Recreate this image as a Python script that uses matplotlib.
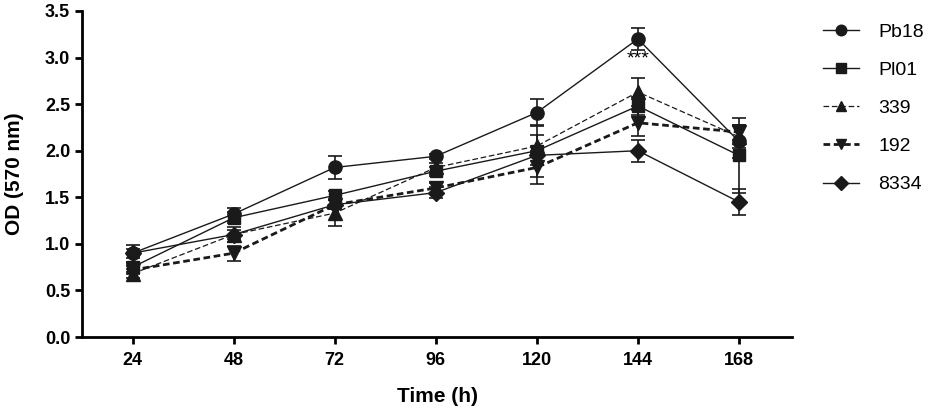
import matplotlib
matplotlib.use("Agg")
import matplotlib.pyplot as plt

plt.rcParams['font.family'] = ['Liberation Sans', 'DejaVu Sans']

# Time points (h)
hours = [24, 48, 72, 96, 120, 144, 168]

# OD readings (mean) and error bars for each strain
pb18 = [0.90, 1.32, 1.82, 1.94, 2.41, 3.20, 2.10]
pb18_err = [0.05, 0.07, 0.12, 0.03, 0.14, 0.12, 0.18]

pl01 = [0.75, 1.28, 1.52, 1.78, 2.00, 2.48, 1.95]
pl01_err = [0.05, 0.06, 0.05, 0.05, 0.28, 0.10, 0.40]

s339 = [0.68, 1.10, 1.33, 1.82, 2.05, 2.63, 2.15]
s339_err = [0.05, 0.05, 0.14, 0.05, 0.12, 0.15, 0.12]

s192 = [0.72, 0.90, 1.42, 1.60, 1.82, 2.30, 2.20]
s192_err = [0.04, 0.08, 0.05, 0.05, 0.18, 0.14, 0.08]

s8334 = [0.90, 1.10, 1.42, 1.55, 1.95, 2.00, 1.45]
s8334_err = [0.09, 0.08, 0.05, 0.06, 0.10, 0.12, 0.14]

labels = ["Pb18", "Pl01", "339", "192", "8334"]

# marker, linestyle, linewidth, markersize
series = [
    (pb18, pb18_err, 'o', '-', 1.0, 9.5),
    (pl01, pl01_err, 's', '-', 1.0, 9.0),
    (s339, s339_err, '^', (0, (4.5, 2.2)), 0.9, 9.5),
    (s192, s192_err, 'v', (0, (2.4, 1.3)), 2.0, 9.5),
    (s8334, s8334_err, 'D', '-', 1.0, 8.5),
]

fig = plt.figure(figsize=(9.35, 4.08), dpi=100)
ax = fig.add_axes([82 / 935, 1 - 337 / 408, 710 / 935, 326 / 408])

for (vals, err, mk, ls, lw, ms), lab in zip(series, labels):
    ax.errorbar(hours, vals, yerr=err, color='#1a1a1a', marker=mk,
                markersize=ms, linestyle=ls, linewidth=lw,
                elinewidth=1.2, capsize=5, capthick=1.2, label=lab)

ax.text(144, 2.99, "***", ha='center', va='center', fontsize=14)

ax.set_xlim(12, 180.6)
ax.set_ylim(0, 3.5)
ax.set_xticks(hours)
ax.set_yticks([0.0, 0.5, 1.0, 1.5, 2.0, 2.5, 3.0, 3.5])
ax.set_yticklabels([f"{v:.1f}" for v in ax.get_yticks()])

for side in ['top', 'right']:
    ax.spines[side].set_visible(False)
for side in ['left', 'bottom']:
    ax.spines[side].set_linewidth(2.0)

ax.tick_params(axis='both', width=2.0, length=5, labelsize=13)
ax.tick_params(axis='x', pad=6)
for t in ax.get_xticklabels() + ax.get_yticklabels():
    t.set_fontweight('bold')

ax.set_xlabel("Time (h)", fontsize=15, fontweight='bold', labelpad=13)
ax.set_ylabel("OD (570 nm)", fontsize=15, fontweight='bold', labelpad=15)

handles, labs = ax.get_legend_handles_labels()
handles = [h[0] for h in handles]
fig.legend(handles, labs, loc='upper left',
           bbox_to_anchor=(823 / 935, 1 - 23 / 408), frameon=False,
           fontsize=14, handlelength=1.85, handletextpad=1.0,
           labelspacing=1.06, borderpad=0, borderaxespad=0, markerscale=0.8)

plt.savefig("out.png", dpi=100)
